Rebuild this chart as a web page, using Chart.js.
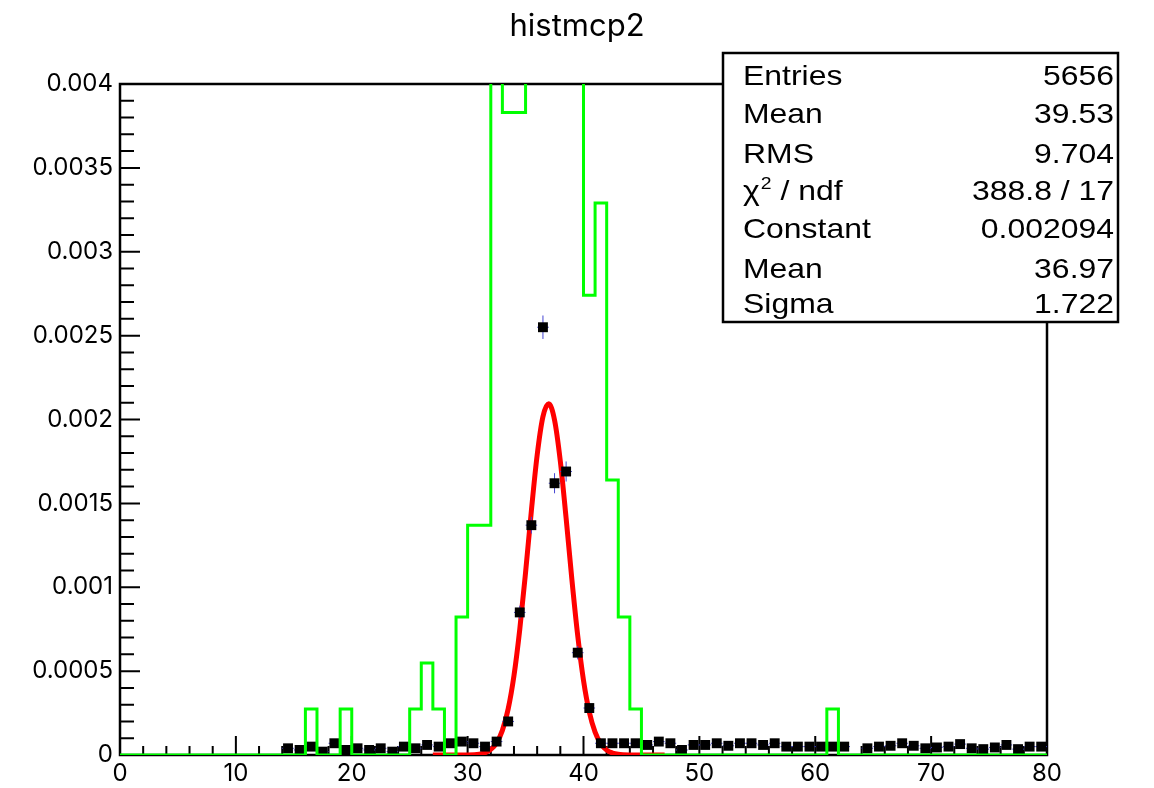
<!DOCTYPE html>
<html><head><meta charset="utf-8">
<script src="https://cdn.jsdelivr.net/npm/chart.js@4.4.1/dist/chart.umd.min.js"></script>
<style>html,body{margin:0;padding:0;background:#fff;} canvas{display:block;}</style>
</head><body>
<canvas id="c" width="1154" height="788"></canvas>
<script>
// ---------- data ----------
const chartTitle = 'histmcp2';
const xTickLabels = ['0','10','20','30','40','50','60','70','80'];
const yTickLabels = ['0','0.0005','0.001','0.0015','0.002','0.0025','0.003','0.0035','0.004'];

// green histogram: one value per 1-unit bin, bins start at 0,1,...,79 (last entry closes the outline at 80)
const greenBinStarts = [0,1,2,3,4,5,6,7,8,9,10,11,12,13,14,15,16,17,18,19,20,21,22,23,24,25,26,27,28,29,30,31,32,33,34,35,36,37,38,39,40,41,42,43,44,45,46,47,48,49,50,51,52,53,54,55,56,57,58,59,60,61,62,63,64,65,66,67,68,69,70,71,72,73,74,75,76,77,78,79,80];
const greenValues = [
  0,0,0,0,0,0,0,0,0,0,
  0,0,0,0,0,0,0.000274,0,0,0.000274,
  0,0,0,0,0,0.000274,0.000548,0.000274,0,0.000822,
  0.00137,0.00137,0.0047,0.00383,0.00383,0.0052,0.0066,0.0061,0.0054,0.0044,
  0.00274,0.00329,0.00164,0.000822,0.000274,0,0,0,0,0,
  0,0,0,0,0,0,0,0,0,0,
  0,0.000274,0,0,0,0,0,0,0,0,
  0,0,0,0,0,0,0,0,0,0,
  0
];

// black points (bin centres) with error bars
const markerX = [14.5,15.5,16.5,17.5,18.5,19.5,20.5,21.5,22.5,23.5,24.5,25.5,26.5,27.5,28.5,29.5,30.5,31.5,32.5,33.5,34.5,35.5,36.5,37.5,38.5,39.5,40.5,41.5,42.5,43.5,44.5,45.5,46.5,47.5,48.5,49.5,50.5,51.5,52.5,53.5,54.5,55.5,56.5,57.5,58.5,59.5,60.5,61.5,62.5,63.5,64.5,65.5,66.5,67.5,68.5,69.5,70.5,71.5,72.5,73.5,74.5,75.5,76.5,77.5,78.5,79.5];
const markerY = [0.00004,0.00003,0.00005,0.00002,0.00007,0.00003,0.00004,0.00003,0.00004,0.00002,0.00005,0.00004,0.00006,0.00005,0.00007,0.00008,0.00007,0.00005,0.00008,0.0002,0.00085,0.00137,0.00255,0.00162,0.00169,0.00061,0.00028,0.00007,0.00007,0.00007,0.00007,0.00006,0.00008,0.00007,0.00003,0.00006,0.00006,0.00007,0.000055,0.00007,0.00007,0.00006,0.00007,0.00005,0.00005,0.00005,0.00005,0.00005,0.00005,null,0.00004,0.00005,0.000055,0.00007,0.000055,0.00004,0.000045,0.00005,0.000065,0.00004,0.000035,0.000045,0.00006,0.000035,0.00005,0.00005];
const markerErr = [0.00001,0.00001,0.00001,0.00001,0.000012,0.00001,0.00001,0.00001,0.00001,0.00001,0.00001,0.00001,0.000012,0.00001,0.000012,0.000012,0.000012,0.00001,0.000012,0.00002,0.00004,0.00005,0.00007,0.00006,0.00006,0.00004,0.000025,0.000012,0.000012,0.000012,0.000012,0.000012,0.000012,0.000012,0.00001,0.000012,0.000012,0.000012,0.000012,0.000012,0.000012,0.000012,0.000012,0.00001,0.00001,0.00001,0.00001,0.00001,0.00001,0,0.00001,0.00001,0.000012,0.000012,0.000012,0.00001,0.00001,0.00001,0.000012,0.00001,0.00001,0.00001,0.000012,0.00001,0.00001,0.00001];

// red gaussian fit curve
const fitX = [27,28,29,30,31,31.5,32,32.5,33,33.5,34,34.5,35,35.5,36,36.5,37,37.5,38,38.5,39,39.5,40,40.5,41,41.5,42,42.5,43,44,45,46,47];
const fitY = [0,0,0.0000001,0.0000006,0.000005,0.000013,0.000033,0.000072,0.000147,0.000275,0.000473,0.000749,0.001088,0.001455,0.001787,0.002017,0.002094,0.001997,0.001751,0.001411,0.001045,0.000712,0.000445,0.000256,0.000136,0.000066,0.000029,0.000012,0.0000045,0.0000005,0,0,0];

// statistics box
const statsLabels = ['Entries','Mean','RMS','\u03C7|2| / ndf','Constant','Mean','Sigma'];
const statsValues = ['5656','39.53','9.704','388.8 / 17','0.002094','36.97','1.722'];

// ---------- drawing ----------
const FONT = 'Inter, "Liberation Sans", Arial, sans-serif';
const STATS_FONT = '"Liberation Sans", Arial, sans-serif';

function stretchedText(ctx, str, x, y, align, sx) {
  ctx.save();
  ctx.translate(x, y);
  ctx.scale(sx, 1);
  ctx.textAlign = align;
  ctx.fillText(str, 0, 0);
  const w = ctx.measureText(str).width * sx;
  ctx.restore();
  return w;
}

const framePlugin = {
  id: 'rootFrame',
  beforeDatasetsDraw(chart) {
    const {ctx, chartArea: a, scales} = chart;
    ctx.save();
    ctx.strokeStyle = '#000';
    ctx.lineWidth = 2;
    ctx.beginPath();
    for (let i = 0; i <= 40; i++) {
      const py = scales.y.getPixelForValue(i * 0.0001);
      const len = i % 5 === 0 ? 20 : 14;
      ctx.moveTo(a.left, py); ctx.lineTo(a.left + len, py);
    }
    for (let i = 0; i <= 40; i++) {
      const px = scales.x.getPixelForValue(i * 2);
      const len = i % 5 === 0 ? 19 : 9;
      ctx.moveTo(px, a.bottom); ctx.lineTo(px, a.bottom - len);
    }
    ctx.stroke();
    ctx.lineWidth = 2.5;
    ctx.strokeRect(a.left, a.top, a.right - a.left, a.bottom - a.top);
    ctx.restore();
  },
  beforeDatasetDraw(chart, args) {
    if (args.index !== 1) return;
    const {ctx, scales} = chart;
    ctx.save();
    ctx.strokeStyle = '#4646d2';
    ctx.lineWidth = 1;
    ctx.beginPath();
    markerX.forEach((x, i) => {
      const y = markerY[i];
      if (y === null) return;
      const px = scales.x.getPixelForValue(x);
      const py = scales.y.getPixelForValue(y);
      const e = markerErr[i];
      ctx.moveTo(px, scales.y.getPixelForValue(y - e));
      ctx.lineTo(px, scales.y.getPixelForValue(y + e));
      ctx.moveTo(scales.x.getPixelForValue(x - 0.5), py);
      ctx.lineTo(scales.x.getPixelForValue(x + 0.5), py);
    });
    ctx.stroke();
    ctx.restore();
  },
  afterDraw(chart) {
    const {ctx} = chart;
    const bx = 723, by = 53, bw = 395, bh = 269;
    ctx.save();
    ctx.fillStyle = '#fff';
    ctx.fillRect(bx, by, bw, bh);
    ctx.strokeStyle = '#000';
    ctx.lineWidth = 2.5;
    ctx.strokeRect(bx, by, bw, bh);
    ctx.fillStyle = '#000';
    ctx.textBaseline = 'alphabetic';
    const baselines = [85, 123, 163, 200, 238, 278, 313];
    const size = 28;
    const sx = 1.14;
    statsLabels.forEach((lab, i) => {
      const yb = baselines[i];
      if (lab.indexOf('|') >= 0) {
        const parts = lab.split('|');
        let x = 743;
        ctx.font = size + 'px ' + STATS_FONT;
        x += stretchedText(ctx, parts[0], x, yb, 'left', sx) + 1;
        ctx.font = Math.round(size * 0.62) + 'px ' + STATS_FONT;
        x += stretchedText(ctx, parts[1], x, yb - 11, 'left', sx);
        ctx.font = size + 'px ' + STATS_FONT;
        stretchedText(ctx, parts[2], x, yb, 'left', sx);
      } else {
        ctx.font = size + 'px ' + STATS_FONT;
        stretchedText(ctx, lab, 743, yb, 'left', sx);
      }
      ctx.font = size + 'px ' + STATS_FONT;
      stretchedText(ctx, statsValues[i], 1114, yb, 'right', sx);
    });
    ctx.restore();
  }
};

const greenData = greenBinStarts.map((x, i) => ({x, y: greenValues[i]}));
const markerData = markerX.map((x, i) => ({x, y: markerY[i]}));
const fitData = fitX.map((x, i) => ({x, y: fitY[i]}));

new Chart(document.getElementById('c'), {
  type: 'scatter',
  data: {
    datasets: [
      { type: 'line', data: greenData, stepped: 'before', borderColor: '#00ff00', borderWidth: 3,
        pointRadius: 0, fill: false, order: 0, showLine: true },
      { type: 'scatter', data: markerData, pointStyle: 'rect', pointRadius: 7, backgroundColor: '#000',
        borderWidth: 0, showLine: false, order: 1 },
      { type: 'line', data: fitData, borderColor: '#ff0000', borderWidth: 5, pointRadius: 0, fill: false,
        cubicInterpolationMode: 'monotone', order: 2, showLine: true }
    ]
  },
  options: {
    responsive: false,
    animation: false,
    layout: { padding: 0 },
    plugins: {
      legend: { display: false },
      tooltip: { enabled: false },
      title: { display: true, text: chartTitle, color: '#000',
        font: { family: FONT, size: 31, weight: 'normal' }, padding: { top: 8, bottom: 38.8 } }
    },
    scales: {
      x: { type: 'linear', min: 0, max: 80,
        grid: { display: false, drawTicks: false }, border: { display: false },
        ticks: { stepSize: 10, autoSkip: false, maxRotation: 0, padding: 4, color: '#000',
          font: { family: FONT, size: 24 }, callback: (v, i) => xTickLabels[i] },
        afterFit: s => { s.height = 33; } },
      y: { type: 'linear', min: 0, max: 0.004,
        grid: { display: false, drawTicks: false }, border: { display: false },
        ticks: { stepSize: 0.0005, autoSkip: false, padding: 7, color: '#000',
          font: { family: FONT, size: 24 }, callback: (v, i) => yTickLabels[i] },
        afterFit: s => { s.width = 120; } },
      yRight: { type: 'linear', position: 'right', display: true, min: 0, max: 1,
        grid: { display: false, drawTicks: false }, border: { display: false },
        ticks: { display: false },
        afterFit: s => { s.width = 107; } }
    }
  },
  plugins: [framePlugin]
});
</script>
</body></html>
